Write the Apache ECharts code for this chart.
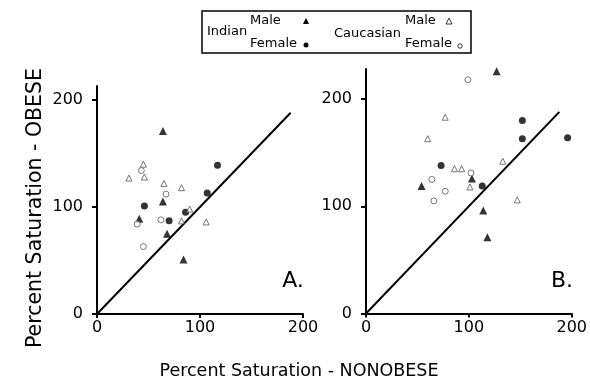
<!DOCTYPE html>
<html><head><meta charset="utf-8">
<script src="https://cdn.jsdelivr.net/npm/echarts@6/dist/echarts.min.js"></script>
<style>html,body{margin:0;padding:0;background:#fff}#c{width:590px;height:383px}</style>
</head><body><div id="c"></div>
<script>
const tickValues = [0, 100, 200];
// Panel A
const A_indianMale = [[64,171],[64,105],[41,89],[68,75],[84,51]];
const A_indianFemale = [[46,101],[70,87],[86,95],[107,113],[117,139]];
const A_caucMale = [[45,140],[46,128],[31,127],[65,122],[82,118],[90,98],[82,87],[106,86]];
const A_caucFemale = [[43,134],[67,112],[39,84],[62,88],[45,63]];
// Panel B
const B_indianMale = [[127,226],[103,126],[114,96],[118,71],[54,119]];
const B_indianFemale = [[152,180],[152,163],[196,164],[113,119],[73,138]];
const B_caucMale = [[77,183],[60,163],[86,135],[93,135],[101,118],[147,106],[133,142]];
const B_caucFemale = [[99,218],[102,131],[64,125],[77,114],[66,105]];
// identity line
const identity = [[0,0],[188,188]];

const FONT = 'DejaVu Sans';
function xAx(i){return {gridIndex:i,type:'value',min:0,max:200,interval:100,
  axisLine:{lineStyle:{color:'#000',width:2}},axisTick:{length:4,lineStyle:{color:'#000',width:2}},
  splitLine:{show:false},axisLabel:{color:'#000',fontSize:16,fontFamily:FONT,margin:6}};}
function yAx(i,max){return {gridIndex:i,type:'value',min:0,max:max,
  axisLine:{lineStyle:{color:'#000',width:2}},
  axisTick:{length:5,customValues:tickValues,lineStyle:{color:'#000',width:2}},
  splitLine:{show:false},axisLabel:{color:'#000',fontSize:16,fontFamily:FONT,margin:14,customValues:tickValues}};}
function sc(i,data,sym,filled,size){return {type:'scatter',xAxisIndex:i,yAxisIndex:i,data:data,symbol:sym,symbolSize:size,
  itemStyle: filled?{color:'#000'}:{color:'#fff',borderColor:'#555',borderWidth:1},z:5};}
function ln(i){return {type:'line',xAxisIndex:i,yAxisIndex:i,data:identity,symbol:'none',lineStyle:{color:'#000',width:2},z:3};}

const series=[];
[[A_indianMale,A_indianFemale,A_caucMale,A_caucFemale],[B_indianMale,B_indianFemale,B_caucMale,B_caucFemale]].forEach((p,i)=>{
  series.push(ln(i));
  series.push(sc(i,p[0],'triangle',true,8));
  series.push(sc(i,p[1],'circle',true,7));
  series.push(sc(i,p[2],'triangle',false,6));
  series.push(sc(i,p[3],'circle',false,6));
});

const chart = echarts.init(document.getElementById('c'),null,{renderer:'canvas'});
chart.setOption({
  animation:false,
  grid:[{left:97,right:287,top:86,bottom:69},{left:366,right:17,top:69,bottom:69.5}],
  xAxis:[xAx(0),xAx(1)],
  yAxis:[yAx(0,213),yAx(1,228)],
  series:series,
  graphic:[
    {type:'text',x:299,y:371,style:{text:'Percent Saturation - NONOBESE',fontSize:17.5,fontFamily:FONT,fill:'#000',align:'center',verticalAlign:'middle'}},
    {type:'text',x:36,y:208,rotation:Math.PI/2,style:{text:'Percent Saturation - OBESE',fontSize:20.5,fontFamily:FONT,fill:'#000',align:'center',verticalAlign:'middle'}},
    {type:'text',x:293,y:281,style:{text:'A.',fontSize:22,fontFamily:FONT,fill:'#000',align:'center',verticalAlign:'middle'}},
    {type:'text',x:562,y:281,style:{text:'B.',fontSize:22,fontFamily:FONT,fill:'#000',align:'center',verticalAlign:'middle'}},
    {type:'rect',shape:{x:202,y:11,width:269,height:42},style:{fill:'#fff',stroke:'#000',lineWidth:1.5}},
    {type:'text',x:207,y:32,style:{text:'Indian',fontSize:13,fontFamily:FONT,fill:'#000',verticalAlign:'middle'}},
    {type:'text',x:250,y:21,style:{text:'Male',fontSize:13,fontFamily:FONT,fill:'#000',verticalAlign:'middle'}},
    {type:'text',x:250,y:44,style:{text:'Female',fontSize:13,fontFamily:FONT,fill:'#000',verticalAlign:'middle'}},
    {type:'polygon',shape:{points:[[306,18],[309,24],[303,24]]},style:{fill:'#000'}},
    {type:'circle',shape:{cx:306,cy:45,r:2.5},style:{fill:'#000'}},
    {type:'text',x:334,y:34,style:{text:'Caucasian',fontSize:13,fontFamily:FONT,fill:'#000',verticalAlign:'middle'}},
    {type:'text',x:405,y:21,style:{text:'Male',fontSize:13,fontFamily:FONT,fill:'#000',verticalAlign:'middle'}},
    {type:'text',x:405,y:44,style:{text:'Female',fontSize:13,fontFamily:FONT,fill:'#000',verticalAlign:'middle'}},
    {type:'polygon',shape:{points:[[449,18],[452,24],[446,24]]},style:{fill:'#fff',stroke:'#333',lineWidth:1}},
    {type:'circle',shape:{cx:460,cy:46,r:2.2},style:{fill:'#fff',stroke:'#333',lineWidth:1}}
  ]
});
</script></body></html>
